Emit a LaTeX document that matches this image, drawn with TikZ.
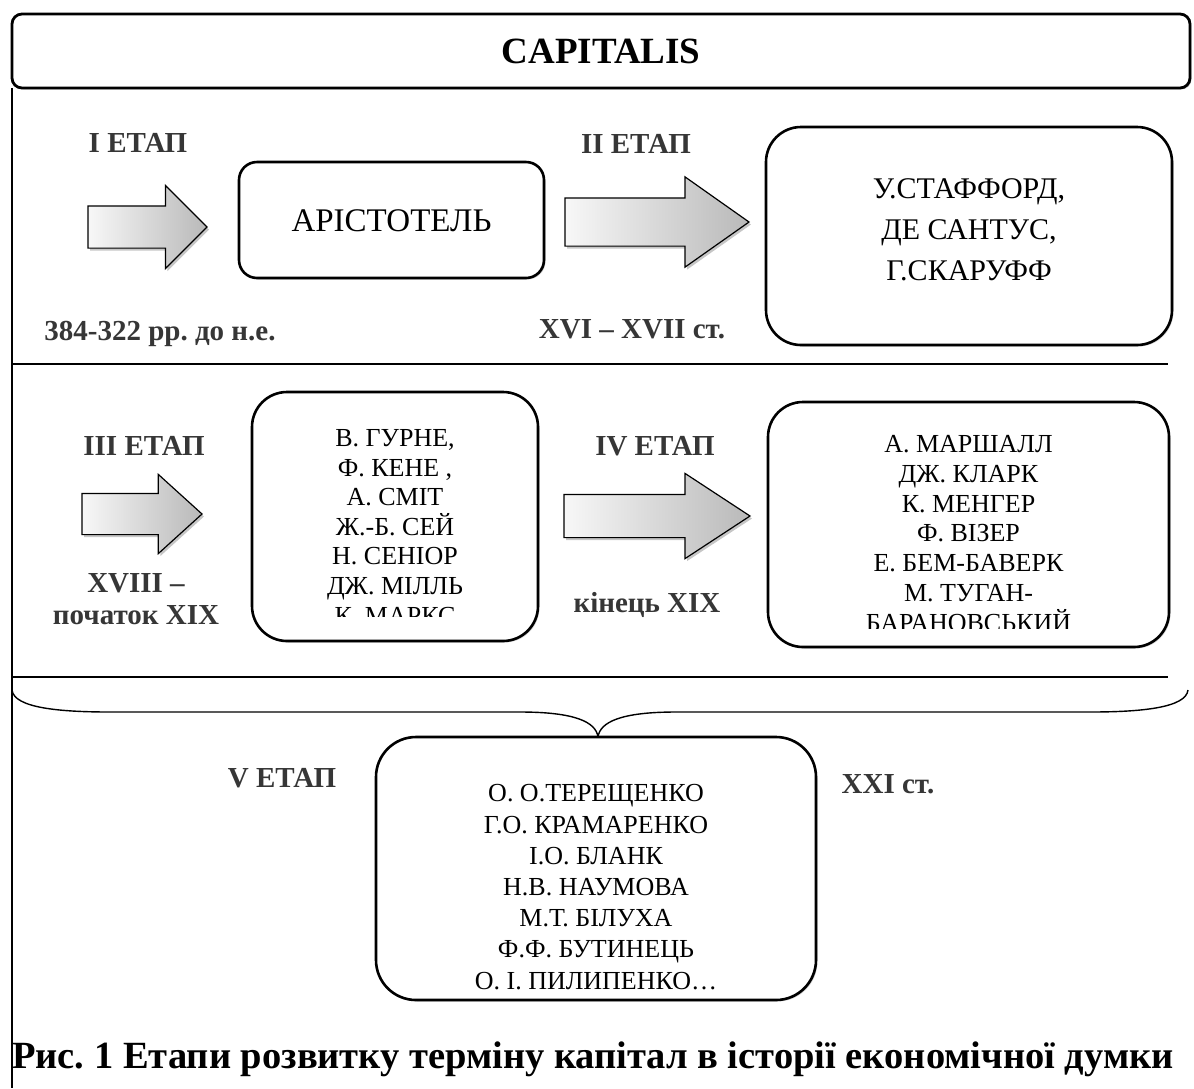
\documentclass[tikz,border=0pt]{standalone}
\usepackage{fontspec}
\setmainfont{Liberation Serif}
\newfontfamily\timesface{Liberation Serif}
\usetikzlibrary{shapes.arrows, shadows, positioning}
\frenchspacing

\definecolor{labelgray}{HTML}{363636}

\tikzset{
  every node/.style={font=\timesface},
  stagelabel/.style={font=\timesface\fontsize{29}{32}\selectfont\bfseries, text=labelgray, inner sep=0pt, anchor=base},
  namebox/.style={rectangle, draw, line width=2.6pt, rounded corners=#1, fill=white, inner sep=0pt, outer sep=0pt,
    drop shadow={shadow xshift=1.5pt, shadow yshift=-1.5pt, opacity=0.35}},
  namebox/.default=35pt,
  namelist/.style={font=\timesface\fontsize{26}{29.6}\selectfont, align=center, inner sep=0pt, anchor=base},
  blockarrow/.style={single arrow, draw, line width=1.2pt, left color=gray!6, right color=gray!55,
    inner xsep=0pt, outer sep=0pt, anchor=tail,
    drop shadow={shadow xshift=2pt, shadow yshift=-2.5pt, opacity=0.45}},
  sepline/.style={line width=1.8pt}
}

\begin{document}
\begin{tikzpicture}[x=1pt, y=-1pt]
\useasboundingbox (0,0) rectangle (1194,1088);

% Header
\node[namebox=10pt, line width=2.8pt, minimum width=1178pt, minimum height=74pt,
  font=\timesface\fontsize{37}{40}\selectfont\bfseries] (head) at (601,51) {CAPITALIS};
\draw[line width=2.8pt] (head.south west) -- (12,1088);

% Separators
\draw[sepline] (12,364) -- (1168,364);
\draw[sepline] (12,677) -- (1168,677);

% Stage I
\node[stagelabel] (lab1) at (138,152) {I ЕТАП};
\node[blockarrow, minimum height=119pt, inner ysep=20.5pt, single arrow head extend=20.5pt,
  single arrow tip angle=90] (arr1) at (88,227) {};
\node[stagelabel] (date1) at (160,340) {384-322 рр. до н.е.};
\node[namebox=18pt, minimum width=305pt, minimum height=116pt] (box1) at (391.5,220) {};
\node[font=\timesface\fontsize{33}{38}\selectfont, inner sep=0pt, anchor=base] (arist) at (box1.center) [yshift=-11pt] {АРІСТОТЕЛЬ};

% Stage II
\node[stagelabel] (lab2) at (636,153) {II ЕТАП};
\node[blockarrow, minimum height=184pt, inner ysep=23.5pt, single arrow head extend=21pt,
  single arrow tip angle=70.4] (arr2) at (565,222) {};
\node[stagelabel] (date2) at (632,338) {XVI – XVII ст.};
\node[namebox, minimum width=406pt, minimum height=218pt] (box2) at (969,236) {};
\node[namelist, font=\timesface\fontsize{30}{41}\selectfont] (names2) at (969,280) {У.СТАФФОРД,\\ДЕ САНТУС,\\Г.СКАРУФФ};

% Stage III
\node[stagelabel] (lab3) at (144,455) {III ЕТАП};
\node[blockarrow, minimum height=120pt, inner ysep=20pt, single arrow head extend=19pt,
  single arrow tip angle=84.4] (arr3) at (82,514) {};
\node[stagelabel, align=center] (date3) at (136,624) {XVIII –\\початок XIX};
\node[namebox, minimum width=286pt, minimum height=249pt] (box3) at (395,516.5) {};
\begin{scope}
  \clip (252,392) rectangle (538,616);
  \node[namelist] (names3) at (395,624) {В. ГУРНЕ,\\Ф. КЕНЕ ,\\А. СМІТ\\Ж.-Б. СЕЙ\\Н. СЕНІОР\\ДЖ. МІЛЛЬ\\К. МАРКС};
\end{scope}

% Stage IV
\node[stagelabel] (lab4) at (655,455) {IV ЕТАП};
\node[blockarrow, minimum height=186pt, inner ysep=21pt, single arrow head extend=21pt,
  single arrow tip angle=66.5] (arr4) at (564,516) {};
\node[stagelabel] (date4) at (647,612) {кінець XIX};
\node[namebox, minimum width=401pt, minimum height=245pt] (box4) at (968.5,524.5) {};
\begin{scope}
  \clip (768,402) rectangle (1169,628);
  \node[namelist, font=\timesface\fontsize{26}{29.7}\selectfont] (names4) at (968.5,631) {А. МАРШАЛЛ\\ДЖ. КЛАРК\\К. МЕНГЕР\\Ф. ВІЗЕР\\Е. БЕМ-БАВЕРК\\М. ТУГАН-\\БАРАНОВСЬКИЙ};
\end{scope}

% Brace over stage V
\draw[line width=1.4pt] (12,690) .. controls (14,708) and (60,712) .. (110,712) -- (520,712)
  .. controls (575,712) and (596,722) .. (598,737)
  .. controls (600,722) and (621,712) .. (676,712) -- (1090,712)
  .. controls (1140,712) and (1186,708) .. (1188,690);

% Stage V
\node[stagelabel] (lab5) at (282,787) {V ЕТАП};
\node[stagelabel] (date5) at (888,793) {XXI ст.};
\node[namebox=40pt, minimum width=440pt, minimum height=263pt] (box5) at (596,868.5) {};
\node[namelist, font=\timesface\fontsize{26}{31.2}\selectfont] (names5) at (596,989) {О. О.ТЕРЕЩЕНКО\\Г.О. КРАМАРЕНКО\\І.О. БЛАНК\\Н.В. НАУМОВА\\М.Т. БІЛУХА\\Ф.Ф. БУТИНЕЦЬ\\О. І. ПИЛИПЕНКО…};

% Caption
\node[font=\timesface\fontsize{38.5}{42}\selectfont\bfseries, inner sep=0pt, anchor=base west] (caption) at (12,1068)
  {Рис. 1 Етапи розвитку терміну капітал в історії економічної думки};
\end{tikzpicture}
\end{document}
